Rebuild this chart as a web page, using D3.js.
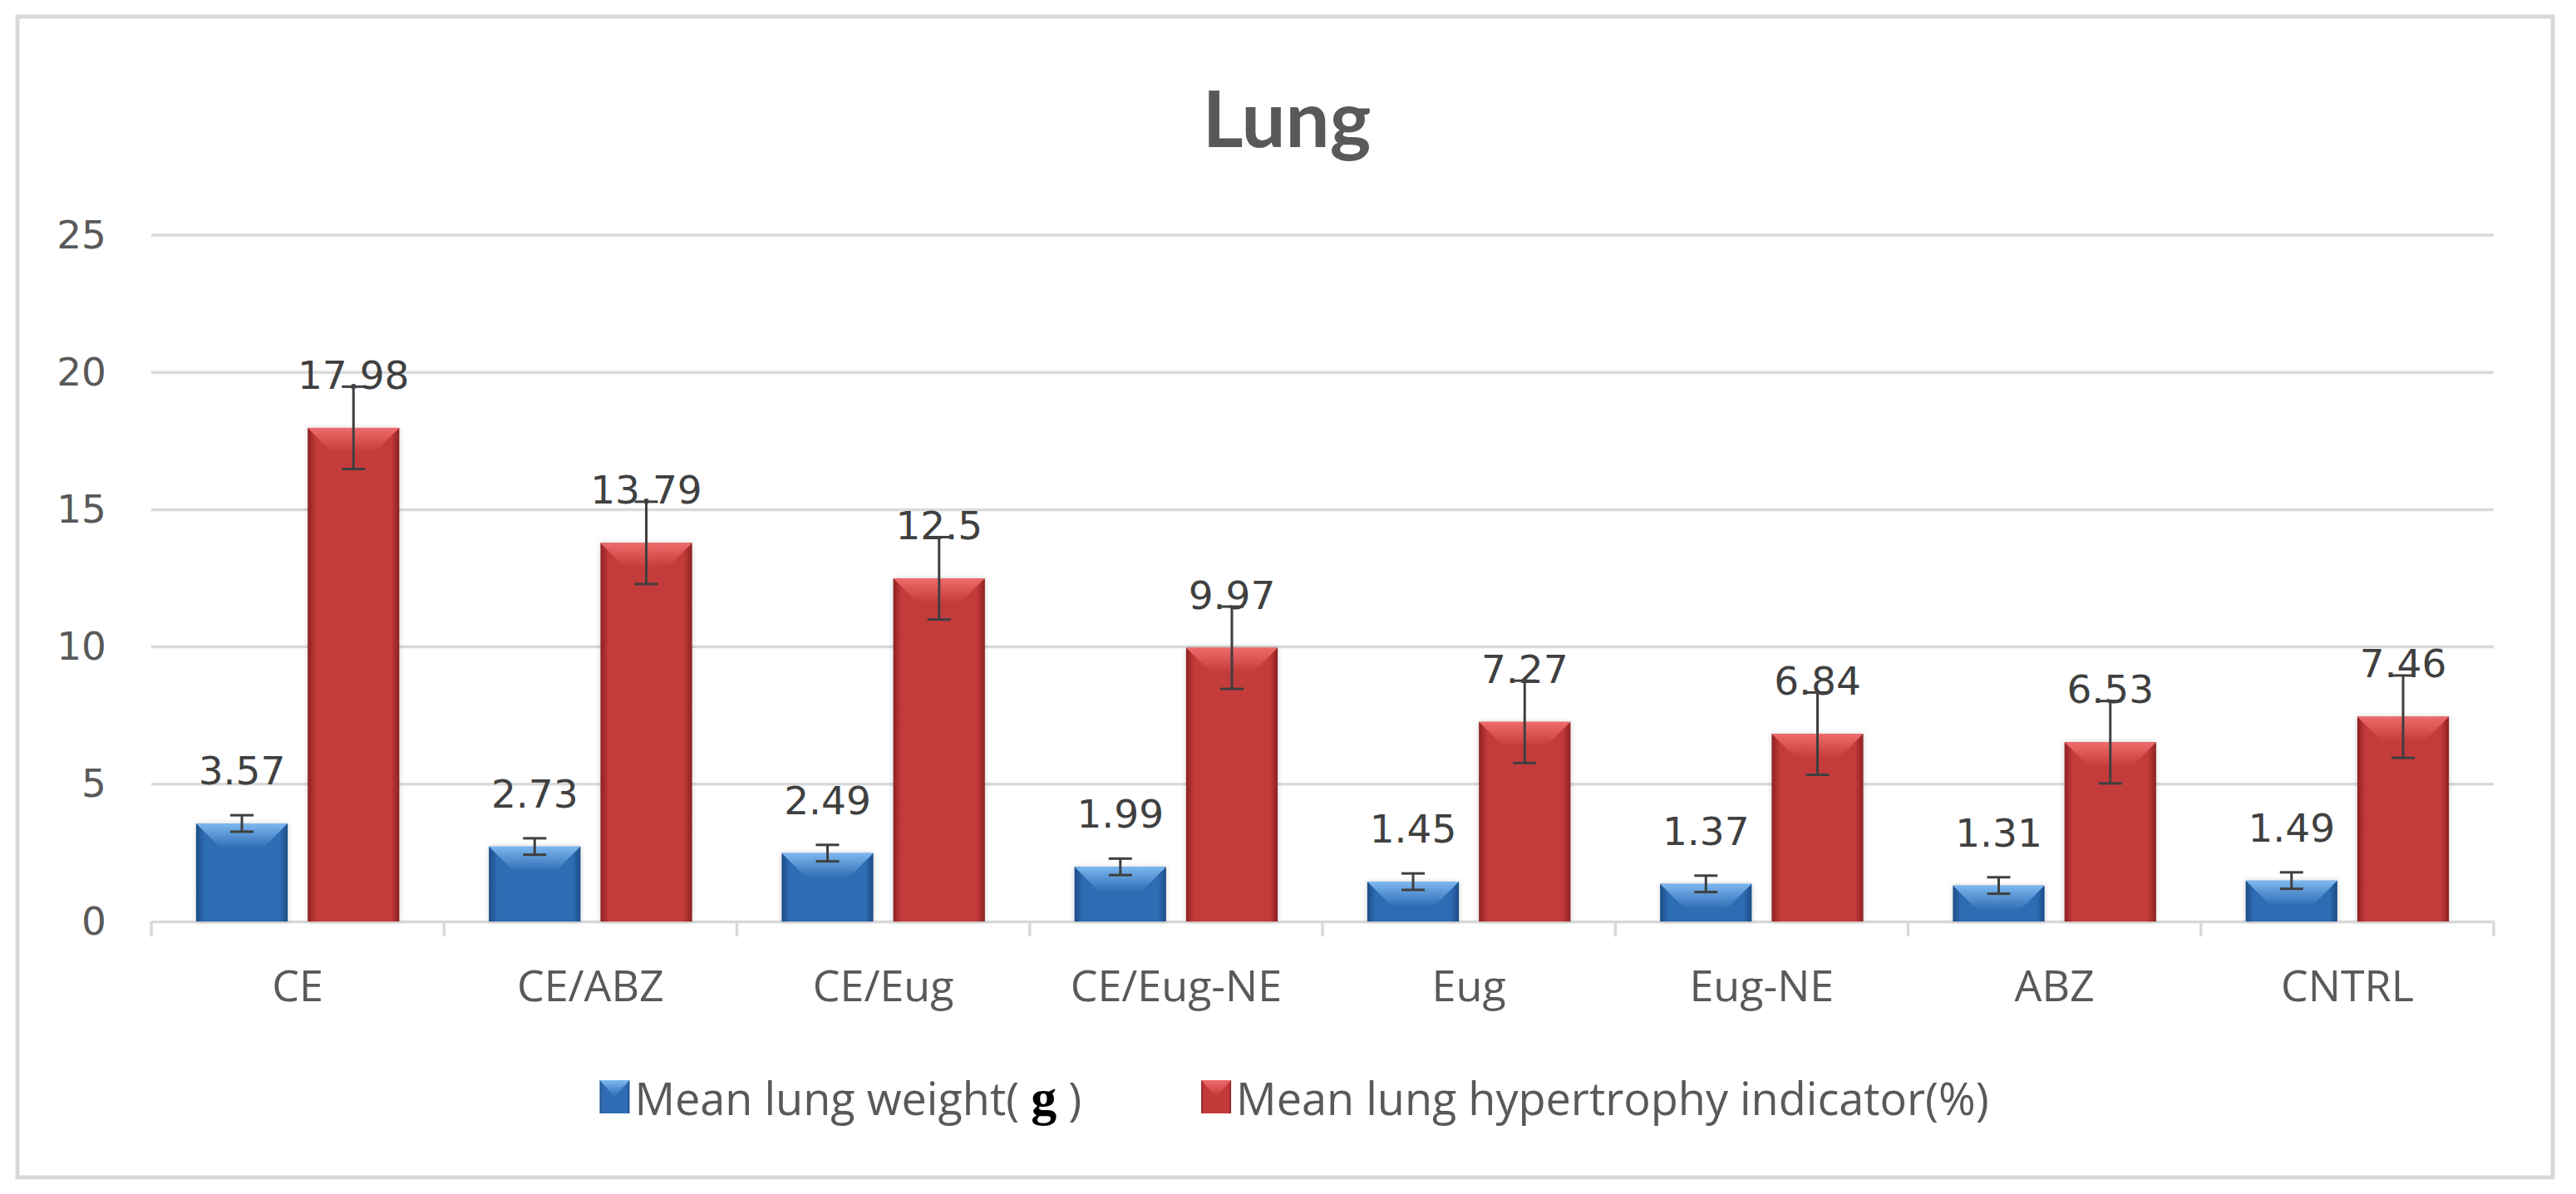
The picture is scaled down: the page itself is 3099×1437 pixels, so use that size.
<!DOCTYPE html>
<html>
<head>
<meta charset="utf-8">
<script src="https://cdn.jsdelivr.net/npm/d3@7"></script>
<style>
  html, body { margin: 0; padding: 0; background: #ffffff; }
  svg { display: block; }
</style>
</head>
<body>
<svg id="chart" width="3099" height="1437"></svg>
<script>
// ---------------- DATA ----------------
const categories = ["CE", "CE/ABZ", "CE/Eug", "CE/Eug-NE", "Eug", "Eug-NE", "ABZ", "CNTRL"];
const seriesNames = ["Mean lung weight(", "Mean lung hypertrophy indicator(%)"];
const lungWeight = [3.57, 2.73, 2.49, 1.99, 1.45, 1.37, 1.31, 1.49];
const lungWeightErr = [0.3, 0.3, 0.3, 0.3, 0.3, 0.3, 0.3, 0.3];
const hypertrophy = [17.98, 13.79, 12.5, 9.97, 7.27, 6.84, 6.53, 7.46];
const hypertrophyErr = [1.5, 1.5, 1.5, 1.5, 1.5, 1.5, 1.5, 1.5];
const yTicks = [0, 5, 10, 15, 20, 25];
const titleText = "Lung";

// ---------------- LAYOUT ----------------
const W = 3099, H = 1437;
const plot = { left: 182, right: 3000, top: 283, bottom: 1109 };
const svg = d3.select("#chart");

const palettes = [
  { main: "#2f6cb4", light: "#7db8f0", dark: "#1d4c86" },
  { main: "#c43a3a", light: "#ef6b6b", dark: "#8c2222" }
];

const defs = svg.append("defs");
palettes.forEach((p, i) => {
  const g = defs.append("linearGradient").attr("id", "side" + i)
    .attr("x1", "0%").attr("x2", "100%").attr("y1", "0%").attr("y2", "0%");
  g.append("stop").attr("offset", "0%").attr("stop-color", p.dark);
  g.append("stop").attr("offset", "9%").attr("stop-color", p.main);
  g.append("stop").attr("offset", "91%").attr("stop-color", p.main);
  g.append("stop").attr("offset", "100%").attr("stop-color", p.dark);
  const t = defs.append("linearGradient").attr("id", "top" + i)
    .attr("x1", "0%").attr("x2", "0%").attr("y1", "0%").attr("y2", "100%");
  t.append("stop").attr("offset", "0%").attr("stop-color", p.light);
  t.append("stop").attr("offset", "100%").attr("stop-color", p.main);
});
const sh = defs.append("filter").attr("id", "shadow").attr("x", "-10%").attr("y", "-10%").attr("width", "120%").attr("height", "120%");
sh.append("feDropShadow").attr("dx", 0).attr("dy", 0).attr("stdDeviation", 3).attr("flood-color", "#000").attr("flood-opacity", 0.18);

// outer border
svg.append("rect").attr("x", 0).attr("y", 0).attr("width", W).attr("height", H).attr("fill", "#ffffff");
svg.append("rect")
  .attr("x", 21).attr("y", 20).attr("width", 3050).attr("height", 1397)
  .attr("fill", "#ffffff").attr("stroke", "#d9d9d9").attr("stroke-width", 5);

// scales
const x0 = d3.scaleBand().domain(categories).range([plot.left, plot.right]).paddingInner(0).paddingOuter(0);
const x1 = d3.scaleBand().domain([0, 1])
  .range([x0.bandwidth() * 0.153, x0.bandwidth() * 0.847]).paddingInner(0.179).paddingOuter(0);
const y = d3.scaleLinear().domain([0, 25]).range([plot.bottom, plot.top]);

// gridlines
svg.append("g").selectAll("line").data(yTicks.filter(d => d !== 0)).join("line")
  .attr("x1", plot.left).attr("x2", plot.right)
  .attr("y1", d => y(d)).attr("y2", d => y(d))
  .attr("stroke", "#d9d9d9").attr("stroke-width", 3.5);

// y axis labels
const yAxis = svg.append("g").attr("transform", `translate(${plot.left},0)`)
  .call(d3.axisLeft(y).tickValues(yTicks).tickSize(0).tickPadding(54));
yAxis.select(".domain").remove();
yAxis.selectAll("text")
  .attr("font-family", "'DejaVu Sans', sans-serif").attr("font-size", 47).attr("fill", "#595959");

// x axis
const xAxis = svg.append("g").attr("transform", `translate(0,${plot.bottom})`)
  .call(d3.axisBottom(x0).tickSize(0).tickPadding(0));
xAxis.select(".domain").attr("stroke", "#d9d9d9").attr("stroke-width", 3.5);
xAxis.selectAll("text")
  .attr("font-family", "'Open Sans', sans-serif").attr("font-size", 52).attr("fill", "#595959")
  .attr("dy", null).attr("y", 96);
// boundary tick marks
const edges = categories.map(c => x0(c)).concat([plot.right]);
svg.append("g").selectAll("line").data(edges).join("line")
  .attr("x1", d => d).attr("x2", d => d)
  .attr("y1", plot.bottom).attr("y2", plot.bottom + 18)
  .attr("stroke", "#d9d9d9").attr("stroke-width", 3.5);

// data table
const rows = categories.map((c, i) => ({
  cat: c,
  vals: [
    { s: 0, v: lungWeight[i], e: lungWeightErr[i] },
    { s: 1, v: hypertrophy[i], e: hypertrophyErr[i] }
  ]
}));

const groups = svg.append("g").selectAll("g").data(rows).join("g")
  .attr("transform", d => `translate(${x0(d.cat)},0)`);

const bars = groups.selectAll("g.bar").data(d => d.vals).join("g").attr("class", "bar");
const bw = x1.bandwidth();
const bevel = 30;

bars.append("rect")
  .attr("x", d => x1(d.s)).attr("width", bw)
  .attr("y", d => y(d.v)).attr("height", d => y(0) - y(d.v))
  .attr("fill", d => `url(#side${d.s})`)
  .attr("filter", "url(#shadow)");
bars.append("path")
  .attr("d", d => {
    const xl = x1(d.s), xr = xl + bw, t = y(d.v);
    const b = Math.min(bevel, (y(0) - t));
    return `M${xl},${t}L${xr},${t}L${xr - b},${t + b}L${xl + b},${t + b}Z`;
  })
  .attr("fill", d => `url(#top${d.s})`);

// error bars
const errColor = "#3f3f3f";
const cap = 28;
bars.append("line")
  .attr("x1", d => x1(d.s) + bw / 2).attr("x2", d => x1(d.s) + bw / 2)
  .attr("y1", d => y(d.v + d.e)).attr("y2", d => y(d.v - d.e))
  .attr("stroke", errColor).attr("stroke-width", 3);
bars.selectAll("line.cap").data(d => [
  { cx: x1(d.s) + bw / 2, yy: y(d.v + d.e) },
  { cx: x1(d.s) + bw / 2, yy: y(d.v - d.e) }
]).join("line").attr("class", "cap")
  .attr("x1", d => d.cx - cap / 2).attr("x2", d => d.cx + cap / 2)
  .attr("y1", d => d.yy).attr("y2", d => d.yy)
  .attr("stroke", errColor).attr("stroke-width", 3);

// data labels
bars.append("text")
  .attr("x", d => x1(d.s) + bw / 2)
  .attr("y", d => y(d.v) - 64)
  .attr("dy", "0.36em")
  .attr("text-anchor", "middle")
  .attr("font-family", "'DejaVu Sans', sans-serif").attr("font-size", 47)
  .attr("fill", "#404040")
  .text(d => String(d.v));

// title
svg.append("text")
  .attr("x", 1548).attr("y", 177)
  .attr("text-anchor", "middle")
  .attr("font-family", "Lato, 'Open Sans', sans-serif").attr("font-weight", "bold")
  .attr("font-size", 94).attr("fill", "#595959")
  .text(titleText);

// legend
const legend = svg.append("g");
const legendY = 1342;
const items = [];
let cursor = 0;
seriesNames.forEach((name, i) => {
  const g = legend.append("g").attr("transform", `translate(${cursor},0)`);
  g.append("rect").attr("x", 0).attr("y", legendY - 42).attr("width", 36).attr("height", 40)
    .attr("fill", `url(#side${i})`);
  g.append("path").attr("d", `M0,${legendY - 42}L36,${legendY - 42}L18,${legendY - 22}Z`)
    .attr("fill", `url(#top${i})`);
  const t = g.append("text").attr("x", 42).attr("y", legendY)
    .attr("font-family", "'Open Sans', sans-serif").attr("font-size", 54).attr("fill", "#595959");
  t.append("tspan").text(name);
  if (i === 0) {
    t.append("tspan").text(" ");
    t.append("tspan").attr("font-family", "'Liberation Serif', serif").attr("font-weight", "bold")
      .attr("font-size", 62).attr("fill", "#000000").text("g");
    t.append("tspan").text(" )");
  }
  const w = 42 + t.node().getComputedTextLength();
  cursor += w + 144;
  items.push(w);
});
const legendWidth = cursor - 144;
legend.attr("transform", `translate(${1557 - legendWidth / 2},0)`);
</script>
</body>
</html>
